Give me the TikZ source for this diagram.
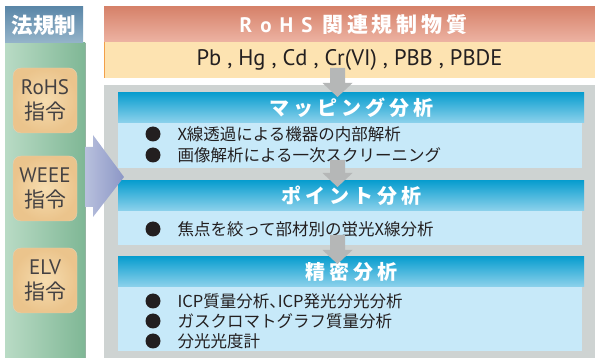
\documentclass[tikz,border=0pt]{standalone}
\usepackage{fontspec}
\setmainfont{Noto Sans CJK JP}
\newfontfamily\latin{PT Sans}
\usetikzlibrary{positioning,calc}

\definecolor{lawtop}{HTML}{5B87A8}
\definecolor{lawbot}{HTML}{95B4CA}
\definecolor{greenL}{HTML}{B9DBC5}
\definecolor{greenR}{HTML}{7FB795}
\definecolor{boxfill}{HTML}{EBC48C}
\definecolor{boxin}{HTML}{F6DDB0}
\definecolor{redtop}{HTML}{D6826A}
\definecolor{redbot}{HTML}{EDB3A3}
\definecolor{band}{HTML}{FDE3B1}
\definecolor{bandline}{HTML}{F2A04A}
\definecolor{panel}{HTML}{CED3D2}
\definecolor{bluetop}{HTML}{0A9ECF}
\definecolor{bluebot}{HTML}{8ED2EC}
\definecolor{bodyblue}{HTML}{C7E9F9}
\definecolor{arrgray}{HTML}{B5B7B7}
\definecolor{bigL}{HTML}{B8C0DD}
\definecolor{bigR}{HTML}{8C97C6}
\definecolor{ink}{HTML}{231F20}

\newcommand\blockdown[2]{%
  \fill[arrgray] ($(#1)+(-7.5,0)$) -- ($(#2)+(-7.5,-14)$) -- ($(#2)+(-15,-14)$)
    -- (#2) -- ($(#2)+(15,-14)$) -- ($(#2)+(7.5,-14)$) -- ($(#1)+(7.5,0)$) -- cycle;}

\begin{document}
\begin{tikzpicture}[
x=1pt, y=-1pt,
every node/.style={inner sep=0pt, outer sep=0pt},
]
% \draw [help lines] (0,0) grid (595,358);
\useasboundingbox (0,0) rectangle (595,358);

\tikzset{
	lawhead/.style={anchor=north west, top color=lawtop, bottom color=lawbot,
		minimum width=78, minimum height=36, text=white,
		font=\fontsize{21.5}{21.5}\selectfont\bfseries},
	lawcol/.style={anchor=north west, left color=greenL, right color=greenR,
		minimum width=80, minimum height=315},
	lawbox/.style={anchor=north west, rounded corners=8pt, draw=boxfill!90!black!60,
		inner color=boxin, outer color=boxfill, minimum width=64, minimum height=65,
		align=center, text=ink!85, font=\fontsize{21}{25}\selectfont},
	subhead/.style={anchor=north west, top color=redtop, bottom color=redbot,
		minimum width=491, minimum height=35, text=white,
		font=\fontsize{21}{21}\selectfont\bfseries},
	subband/.style={anchor=north west, fill=band, minimum width=491,
		minimum height=36, text=ink, font=\latin\fontsize{22.5}{22.5}\selectfont},
	secpanel/.style={anchor=north west, fill=panel, minimum width=491, minimum height=273},
	sechead/.style={anchor=north west, top color=bluetop, bottom color=bluebot,
		minimum width=466, minimum height=30, text=white,
		font=\fontsize{20}{20}\selectfont\bfseries\addfontfeature{LetterSpace=20}},
	secbody/.style={anchor=north west, fill=bodyblue, minimum width=464},
	bul/.style={circle, fill=ink, minimum size=15},
	txt/.style={anchor=west, text=ink, font=\fontsize{16.5}{16.5}\selectfont},
}

% left column
\node[lawcol] (col) at (5,43) {};
\draw[greenR!80!black!70, line width=1pt] (col.north east) -- (col.south east);
\node[lawhead] (law) at (5,7) {法規制};
\node[lawbox] (rohs) at (13,68) {{\latin RoHS}\\指令};
\node[lawbox] (weee) at (13,156) {{\latin WEEE}\\指令};
\node[lawbox] (elv) at (13,248) {{\latin ELV}\\指令};

% substances
\node[subhead] (sub) at (104,7) {\hspace{8pt}{\latin R\kern8pt o\kern8pt H\kern8pt S}\kern10pt
	{\addfontfeature{LetterSpace=18}関連規制物質}};
\node[subband] (elem) at (104,42) {Pb , Hg , Cd , Cr(VI) , PBB , PBDE};
\draw[bandline, line width=1pt] (elem.north west) -- (elem.south west);

% analysis steps
\node[secpanel] (pan) at (104,85) {};

\node[sechead] (map) at (118,93) {マッピング分析};
\node[secbody, minimum height=45] (mapb) at (118,123) {};
\node[sechead] (pt) at (118,181) {ポイント分析};
\node[secbody, minimum height=34] (ptb) at (118,211) {};
\node[sechead] (prec) at (118,257) {精密分析};
\node[secbody, minimum height=64] (precb) at (118,287) {};

\node[bul] (m1) at (153,134) {};
\node[txt, right=17pt of m1] (m1t) {X線透過による機器の内部解析};
\node[bul] (m2) at (153,155) {};
\node[txt, right=17pt of m2] (m2t) {画像解析による一次スクリーニング};

\node[bul] (p1) at (153,229) {};
\node[txt, right=17pt of p1] (p1t) {焦点を絞って部材別の蛍光X線分析};

\node[bul] (s1) at (153,301) {};
\node[txt, right=17pt of s1] (s1t) {ICP質量分析、\kern-8pt ICP発光分光分析};
\node[bul] (s2) at (153,321) {};
\node[txt, right=17pt of s2] (s2t) {ガスクロマトグラフ質量分析};
\node[bul] (s3) at (153,341) {};
\node[txt, right=17pt of s3] (s3t) {分光光度計};

% gray arrows
\coordinate (a1) at (337.5,68);
\coordinate (a2) at (337.5,160);
\coordinate (a3) at (337.5,235);
\blockdown{a1}{a1 |- {$(map.north)+(0,4)$}}
\blockdown{a2}{a2 |- {$(pt.north)+(0,6)$}}
\blockdown{a3}{a3 |- {$(prec.north)+(0,7)$}}

% big arrow into the panel
\coordinate (bigtip) at (124,177);
\shade[left color=bigL, right color=bigR]
	(col.east |- 0,147) -- (93,147) -- (93,135) -- (bigtip) -- (93,217) -- (93,207)
	-- (col.east |- 0,207) -- cycle;

\end{tikzpicture}
\end{document}
